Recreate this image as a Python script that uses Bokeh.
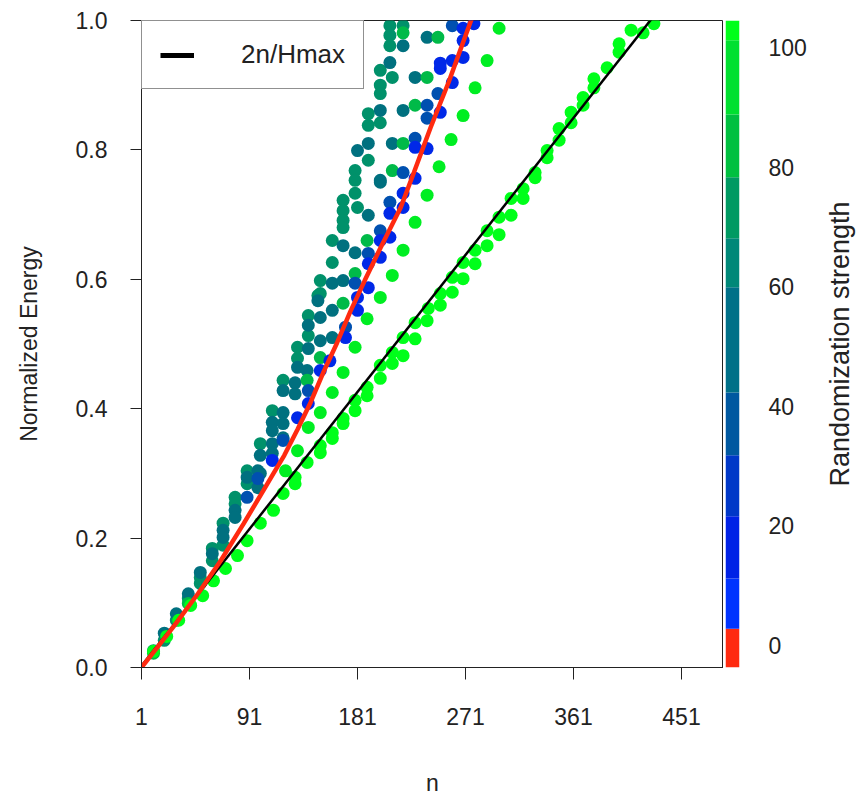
from bokeh.plotting import figure
from bokeh.models import FixedTicker, Range1d, Legend, LegendItem, NumeralTickFormatter
from bokeh.layouts import row
from bokeh.embed import file_html
from bokeh.resources import INLINE

FONT = "Liberation Sans"
TXT = "#222222"
FS = "23px"

# ---------------- data ----------------
x_ticks = [1, 91, 181, 271, 361, 451]
y_ticks = [0.0, 0.2, 0.4, 0.6, 0.8, 1.0]
hmax = 850
line_n = [1, 486]

red_n = [1, 15, 28, 48, 67, 86, 103, 111, 120, 131, 142, 153, 164, 175, 187, 200, 217, 228, 242, 257, 275, 280]
red_e = [0.0, 0.033, 0.064, 0.114, 0.165, 0.222, 0.275, 0.300, 0.328, 0.368, 0.410, 0.458, 0.502, 0.550,
         0.598, 0.648, 0.711, 0.765, 0.835, 0.905, 0.997, 1.02]

tealgreen_n = [11, 20, 30, 40, 50, 50, 60, 60, 69, 69, 79, 79, 89, 89,
               140, 140, 148, 131, 131, 119, 110, 100,
               169, 169, 169, 169, 160, 160, 150, 150, 181, 179,
               208, 219, 208, 208, 200, 210, 200, 200, 190, 200, 190, 190, 179, 179]
tealgreen_e = [0.026, 0.042, 0.073, 0.107, 0.139, 0.130, 0.184, 0.165, 0.223, 0.189, 0.263, 0.253, 0.304, 0.284,
               0.544, 0.513, 0.575, 0.495, 0.478, 0.444, 0.397, 0.346,
               0.722, 0.706, 0.691, 0.680, 0.660, 0.626, 0.598, 0.578, 0.711, 0.733,
               0.992, 0.992, 0.977, 0.961, 0.923, 0.912, 0.900, 0.887, 0.856, 0.842, 0.838, 0.784, 0.768, 0.753]

teal_n = [20, 30, 40, 50, 60, 69, 69, 79, 79, 89, 98, 98,
          148, 150, 160, 140, 131, 140, 150, 160, 119, 129, 129, 139, 110, 110, 119, 119, 100, 110, 110, 119, 100,
          190, 200, 169, 179, 160, 169,
          219, 239, 208, 229, 200, 219, 181, 190, 210, 200]
teal_e = [0.053, 0.083, 0.114, 0.147, 0.176, 0.212, 0.201, 0.243, 0.232, 0.294, 0.304, 0.278,
          0.567, 0.541, 0.552, 0.529, 0.464, 0.493, 0.505, 0.510, 0.428, 0.440, 0.423, 0.459, 0.379, 0.366,
          0.394, 0.377, 0.328, 0.346, 0.331, 0.355, 0.300,
          0.699, 0.750, 0.652, 0.641, 0.594, 0.598,
          0.961, 0.974, 0.935, 0.912, 0.861, 0.861, 0.799, 0.810, 0.810, 0.753]

mgreen_n = [219, 248, 239, 229, 219, 210, 189, 179, 169, 150, 139, 40, 11]
mgreen_e = [0.981, 0.974, 0.912, 0.869, 0.810, 0.768, 0.660, 0.609, 0.563, 0.479, 0.444, 0.099, 0.022]

dblue_n = [260, 248, 239, 239, 229, 219, 208, 200, 190, 179, 171, 140, 119, 89, 98]
dblue_e = [0.992, 0.887, 0.869, 0.849, 0.818, 0.765, 0.719, 0.675, 0.640, 0.594, 0.526, 0.428, 0.351, 0.263, 0.292]

blue_n = [278, 269, 269, 269, 260, 250, 250, 260, 250, 229, 239, 229, 219, 219, 208, 200, 208, 190, 200,
          190, 181, 181, 171, 158, 150, 140, 131, 110]
blue_e = [0.995, 0.988, 0.969, 0.943, 0.938, 0.934, 0.926, 0.904, 0.858, 0.804, 0.802, 0.756, 0.733, 0.711,
          0.702, 0.660, 0.665, 0.624, 0.634, 0.587, 0.572, 0.552, 0.510, 0.474, 0.459, 0.408, 0.386, 0.320]

gmid_n = [121, 131, 140, 150, 160, 169, 179, 189, 200, 210, 219, 229, 239, 249, 259, 269, 279, 289, 299]
gmid_e = [0.304, 0.335, 0.371, 0.394, 0.425, 0.456, 0.495, 0.539, 0.572, 0.606, 0.645, 0.688, 0.730,
          0.774, 0.816, 0.853, 0.896, 0.938, 0.988]

s100_n = [428, 419, 409, 399, 399, 389, 378, 378, 369, 369, 359, 359, 349, 349, 339, 339, 329, 329, 319, 319,
          309, 309, 299, 299, 289, 289, 279, 279, 269, 269, 260, 260, 250, 250, 240, 239, 229, 229, 219, 219,
          210, 210, 200, 200, 189, 189, 179, 179, 169, 169, 160, 160, 150, 150, 139, 129, 129, 119, 111,
          100, 89, 81, 71, 61, 52, 42, 32, 22, 11]
s100_e = [0.995, 0.981, 0.985, 0.964, 0.951, 0.927, 0.910, 0.896, 0.881, 0.869, 0.858, 0.842, 0.833, 0.815,
          0.799, 0.788, 0.765, 0.757, 0.740, 0.725, 0.725, 0.699, 0.696, 0.669, 0.675, 0.652, 0.645, 0.624,
          0.626, 0.601, 0.603, 0.580, 0.578, 0.560, 0.555, 0.536, 0.533, 0.508, 0.510, 0.482, 0.487, 0.470,
          0.467, 0.447, 0.433, 0.420, 0.413, 0.397, 0.385, 0.377, 0.363, 0.354, 0.343, 0.332, 0.317, 0.294,
          0.284, 0.269, 0.243, 0.223, 0.196, 0.173, 0.153, 0.134, 0.111, 0.096, 0.073, 0.048, 0.025]

# colour bar: strength bins (bottom, top) and colours
cb_lo = [-3.7, 2.8, 11.2, 21.6, 31.8, 42.3, 59.9, 68.1, 78.3, 88.8, 101.2]
cb_hi = [2.8, 11.2, 21.6, 31.8, 42.3, 59.9, 68.1, 78.3, 88.8, 101.2, 104.5]
cb_colors = ["#FF2A10", "#0033FF", "#0022E6", "#0038C8", "#0058A0", "#007088",
             "#008878", "#009A62", "#00C040", "#00E030", "#00FF1A"]
cb_ticks = [0, 20, 40, 60, 80, 100]

# ---------------- main figure ----------------
p = figure(output_backend="svg", toolbar_location=None,
           frame_width=582, frame_height=647,
           min_border_left=141, min_border_right=0, min_border_top=20, min_border_bottom=131,
           x_range=Range1d(1, 486), y_range=Range1d(0, 1))
p.grid.visible = False
p.outline_line_color = TXT
p.outline_line_width = 1
p.background_fill_color = "white"
p.border_fill_color = "white"

for ax in (p.xaxis[0], p.yaxis[0]):
    ax.axis_line_color = TXT
    ax.major_tick_line_color = TXT
    ax.minor_tick_line_color = None
    ax.major_tick_in = 0
    ax.major_label_text_font = FONT
    ax.major_label_text_font_size = FS
    ax.major_label_text_color = TXT
    ax.axis_label_text_font = FONT
    ax.axis_label_text_font_size = FS
    ax.axis_label_text_font_style = "normal"
    ax.axis_label_text_color = TXT

p.xaxis.ticker = FixedTicker(ticks=x_ticks)
p.xaxis.major_tick_out = 12
p.xaxis.major_label_standoff = 28
p.xaxis.axis_label = "n"
p.xaxis.axis_label_standoff = 42

p.yaxis.ticker = FixedTicker(ticks=y_ticks)
p.yaxis.formatter = NumeralTickFormatter(format="0.0")
p.yaxis.major_tick_out = 11
p.yaxis.major_label_standoff = 23
p.yaxis.axis_label = "Normalized Energy"
p.yaxis.axis_label_standoff = 31

S = 13
p.scatter(tealgreen_n, tealgreen_e, size=S, fill_color="#00916A", line_color=None)
p.scatter(teal_n, teal_e, size=S, fill_color="#00707F", line_color=None)
p.scatter(mgreen_n, mgreen_e, size=S, fill_color="#00BA48", line_color=None)
p.scatter(s100_n, s100_e, size=S, fill_color="#00FF1A", line_color=None)
p.scatter(gmid_n, gmid_e, size=S, fill_color="#00EE22", line_color=None)
p.scatter(dblue_n, dblue_e, size=S, fill_color="#0050B0", line_color=None)
p.scatter(blue_n, blue_e, size=S, fill_color="#0028E8", line_color=None)

p.line(line_n, [2 * v / hmax for v in line_n], line_color="black", line_width=2.5)
p.line(red_n, red_e, line_color="#FF2A10", line_width=4.5)

# legend sample (kept outside the visible range, only its legend glyph shows)
leg_r = p.line([-60, -50], [-1, -1], line_color="black", line_width=5)
legend = Legend(items=[LegendItem(label="2n/Hmax", renderers=[leg_r])],
                location="top_left", margin=0, padding=18, spacing=0,
                glyph_width=34, glyph_height=28, label_height=28, label_standoff=47,
                label_text_font=FONT, label_text_font_size="26px", label_text_color=TXT,
                border_line_color=TXT, border_line_width=1,
                background_fill_color="white", background_fill_alpha=1)
p.add_layout(legend)

# ---------------- colour bar ----------------
cb = figure(output_backend="svg", toolbar_location=None,
            frame_width=14, frame_height=647,
            min_border_left=2, min_border_right=72, min_border_top=20, min_border_bottom=131,
            x_range=Range1d(0, 1), y_range=Range1d(-3.7, 104.5), y_axis_location="right")
cb.grid.visible = False
cb.xaxis.visible = False
cb.outline_line_color = None
cb.quad(left=0, right=1, bottom=cb_lo, top=cb_hi, fill_color=cb_colors, line_color=None)
cy = cb.yaxis[0]
cy.ticker = FixedTicker(ticks=cb_ticks)
cy.axis_line_color = None
cy.major_tick_line_color = None
cy.minor_tick_line_color = None
cy.major_tick_out = 0
cy.major_tick_in = 0
cy.major_label_standoff = 29
cy.major_label_text_font = FONT
cy.major_label_text_font_size = FS
cy.major_label_text_color = TXT

# ---------------- colour bar title (left axis of a thin blank panel) ----------------
ct = figure(output_backend="svg", toolbar_location=None,
            frame_width=2, frame_height=647,
            min_border_left=43, min_border_right=0, min_border_top=20, min_border_bottom=131,
            x_range=Range1d(0, 1), y_range=Range1d(-3.7, 104.5))
ct.grid.visible = False
ct.xaxis.visible = False
ct.outline_line_color = None
cty = ct.yaxis[0]
cty.ticker = FixedTicker(ticks=[])
cty.axis_line_color = None
cty.major_tick_line_color = None
cty.minor_tick_line_color = None
cty.major_tick_out = 0
cty.major_tick_in = 0
cty.major_label_text_font_size = "0px"
cty.major_label_standoff = 0
cty.axis_label = "Randomization strength"
cty.axis_label_standoff = 0
cty.axis_label_text_font = FONT
cty.axis_label_text_font_size = "27px"
cty.axis_label_text_font_style = "normal"
cty.axis_label_text_color = TXT

layout = row(p, cb, ct, spacing=0)
open("out.html", "w").write(file_html(layout, INLINE))
